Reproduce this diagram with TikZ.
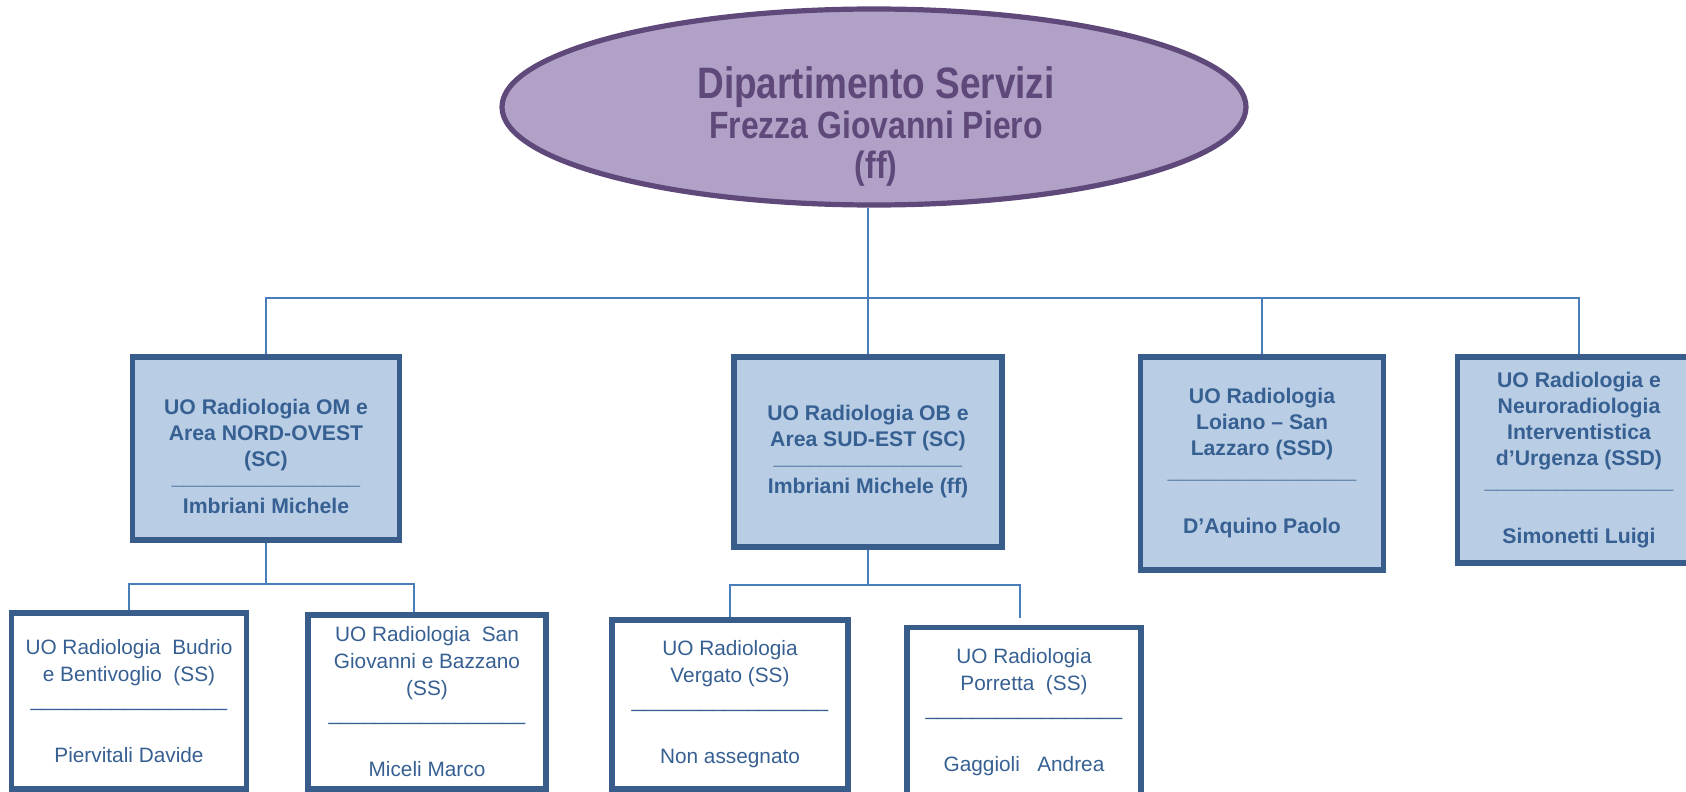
\documentclass[tikz,border=0pt]{standalone}
\usepackage{fontspec}
\setmainfont{Liberation Sans}
\newfontfamily\narrowsf[FakeStretch=0.84]{Liberation Sans}
\usepackage{tikz}
\usetikzlibrary{shapes.geometric}
\definecolor{deptfill}{HTML}{B2A1C7}
\definecolor{deptline}{HTML}{5F497A}
\definecolor{unitfill}{HTML}{B9CDE5}
\definecolor{unitline}{HTML}{385D8A}
\definecolor{unittext}{HTML}{376092}
\definecolor{linkblue}{HTML}{4A7EBB}
\newcommand{\sigline}{\raisebox{1.5pt}{\_\_\_\_\_\_\_\_\_\_\_\_\_\_\_\_}}
\newcommand{\siglinelong}{\raisebox{1pt}{\_\_\_\_\_\_\_\_\_\_\_\_\_\_\_\_\_}}

\begin{document}
\begin{tikzpicture}[
    x=0.5pt, y=-0.5pt,
    dept/.style={ellipse, draw=deptline, fill=deptfill, line width=2.6pt, minimum width=372pt, minimum height=98pt, inner sep=0pt},
    depttext/.style={text=deptline, align=center, inner sep=0pt, font={\narrowsf\bfseries\fontsize{19}{20}\selectfont}},
    unit/.style={rectangle, draw=unitline, fill=unitfill, line width=2.8pt, text=unittext, align=center, inner sep=0pt, font={\bfseries\fontsize{10.6}{13}\selectfont}},
    subunit/.style={unit, fill=white, font={\fontsize{10.4}{13.5}\selectfont}},
    link/.style={draw=linkblue, line width=1.2pt}
]
\useasboundingbox (0,0) rectangle (1686,792);

% Department
\node[dept] (dept) at (874,107) {};
\node[depttext] (depttitle) at (876,127) {{\fontsize{22}{20}\selectfont Dipartimento Servizi}\\Frezza Giovanni Piero\\(ff)};

% Units (SC / SSD)
\node[unit, minimum width=133.5pt, minimum height=91.5pt] (om) at (266,448.5) {\mbox{}\\[3pt]UO Radiologia OM e\\Area NORD-OVEST\\(SC)\\[-2.5pt]\sigline\\Imbriani Michele};
\node[unit, minimum width=134pt, minimum height=95pt] (ob) at (868,452) {UO Radiologia OB e\\Area SUD-EST (SC)\\[-2.5pt]\sigline\\Imbriani Michele (ff)};
\node[unit, minimum width=121.5pt, minimum height=106.5pt] (loiano) at (1262,463.5) {UO Radiologia\\Loiano -- San\\Lazzaro (SSD)\\\sigline\\[13pt]D’Aquino Paolo};
\node[unit, minimum width=121.5pt, minimum height=103pt] (neuro) at (1579,460) {UO Radiologia e\\Neuroradiologia\\Interventistica\\d’Urgenza (SSD)\\\sigline\\[13pt]Simonetti Luigi};

% Simple units (SS)
\node[subunit, minimum width=117.5pt, minimum height=88pt] (budrio) at (129,701) {UO Radiologia\ \ Budrio\\e Bentivoglio\ \ (SS)\\\siglinelong\\[13.5pt]Piervitali Davide};
\node[subunit, minimum width=119pt, minimum height=87pt] (sangio) at (427,702) {UO Radiologia\ \ San\\Giovanni e Bazzano\\(SS)\\\siglinelong\\[13.5pt]Miceli Marco};
\node[subunit, minimum width=118pt, minimum height=84.5pt] (vergato) at (730,704.5) {UO Radiologia\\Vergato (SS)\\\siglinelong\\[13.5pt]Non assegnato};
\node[subunit, minimum width=117pt, minimum height=85pt] (porretta) at (1024,712.5) {UO Radiologia\\Porretta\ \ (SS)\\\siglinelong\\[13.5pt]Gaggioli\ \ \ Andrea};

% Links
\coordinate (hub) at (868,298);
\coordinate (omhub) at (266,584);
\coordinate (obhub) at (868,585);
\draw[link] (dept.south -| hub) -- (hub);
\draw[link] (om.north) |- (hub) -- (hub -| neuro.north) -- (neuro.north);
\draw[link] (hub) -- (ob.north);
\draw[link] (loiano.north |- hub) -- (loiano.north);
\draw[link] (om.south) -- (omhub);
\draw[link] (budrio.north) |- (omhub) -| ([xshift=-6.5pt]sangio.north);
\draw[link] (ob.south) -- (obhub);
\draw[link] (vergato.north) |- (obhub) -| ([xshift=-2pt,yshift=3.5pt]porretta.north);
\end{tikzpicture}
\end{document}
